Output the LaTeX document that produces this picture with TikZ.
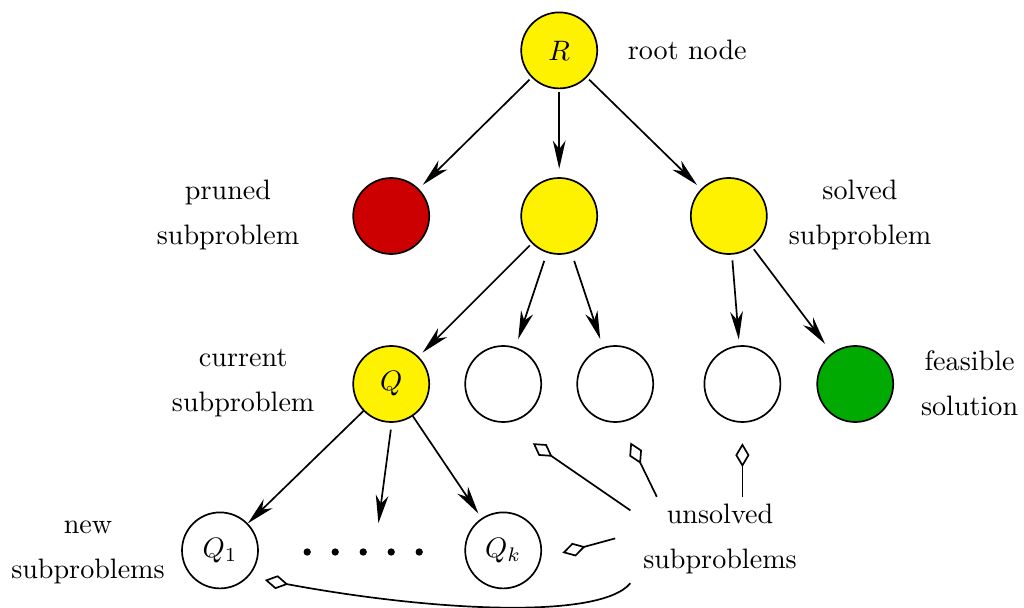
\documentclass[tikz,border=0pt]{standalone}
\usepackage{amsmath}
\usepackage{tikz}
\usetikzlibrary{arrows.meta}

\definecolor{prunedred}{RGB}{204,0,0}
\definecolor{feasgreen}{RGB}{0,170,0}

\begin{document}
\begin{tikzpicture}[>={Stealth[length=10pt,width=4.5pt,inset=3pt]},
  line width=0.6pt,
  sub/.style={circle, draw, minimum size=0.95cm, inner sep=0pt},
  open/.style={-{Diamond[open,length=8.5pt,width=5pt]}},
  lbl/.style={align=center}]
\useasboundingbox (0,0) rectangle (12.8,-7.6);
%root
\node[sub, fill=yellow] (root) at (6.99,-0.63) {$R$};
\node[anchor=west] (rootlbl) at (7.72,-0.63) {root node};
%first level
\node[sub, fill=prunedred] (pruned) at (4.89,-2.7) {};
\node[sub, fill=yellow] (mid) at (6.99,-2.7) {};
\node[sub, fill=yellow] (solved) at (9.11,-2.7) {};
\node[lbl] (prunedlbl) at (2.85,-2.69) {pruned\\[4pt]subproblem};
\node[lbl] (solvedlbl) at (10.75,-2.69) {solved\\[4pt]subproblem};
\draw[->, shorten <=1pt, shorten >=2pt] (root) -- (pruned);
\draw[->, shorten <=1pt, shorten >=3pt] (root) -- (mid);
\draw[->, shorten <=1pt, shorten >=2pt] (root) -- (solved);
%second level
\node[sub, fill=yellow] (cur) at (4.89,-4.8) {$Q$};
\node[sub] (open1) at (6.29,-4.8) {};
\node[sub] (open2) at (7.69,-4.8) {};
\node[sub] (open3) at (9.28,-4.8) {};
\node[sub, fill=feasgreen] (feas) at (10.69,-4.8) {};
\node[lbl] (curlbl) at (3.04,-4.79) {current\\[4pt]subproblem};
\node[lbl] (feaslbl) at (12.12,-4.79) {feasible\\[4pt]solution};
\draw[->, shorten <=1pt, shorten >=2pt] (mid) -- (cur);
\draw[->, shorten <=3pt, shorten >=3pt] (mid) -- (open1);
\draw[->, shorten <=3pt, shorten >=3pt] (mid) -- (open2);
\draw[->, shorten <=2pt, shorten >=2pt] (solved) -- (open3);
\draw[->, shorten <=1pt, shorten >=4pt] (solved) -- (feas);
%new subproblems
\node[sub] (q1) at (2.75,-6.88) {$Q_1$};
\node[sub] (qk) at (6.29,-6.88) {$Q_k$};
\node[lbl] (newlbl) at (1.1,-6.91) {new\\[4pt]subproblems};
\foreach \x in {0,...,4}
{
  \fill (3.84cm + \x * 0.35cm, -6.9cm) circle (1.3pt);
}
\coordinate (dots) at (4.73,-6.54);
\draw[->] (cur) -- (q1);
\draw[->, shorten <=1pt] (cur.south) ++(0,-0.05) -- (dots);
\draw[->, shorten >=2pt] (cur) -- (qk);
%unsolved legend
\node[lbl] (openlbl) at (9.0,-6.74) {unsolved\\[4pt]subproblems};
\coordinate (s1) at (7.88,-6.38);
\coordinate (t1) at (6.66,-5.54);
\coordinate (s2) at (8.21,-6.21);
\coordinate (t2) at (7.88,-5.53);
\coordinate (s3) at (9.28,-6.21);
\coordinate (t3) at (9.28,-5.54);
\coordinate (s4) at (7.69,-6.73);
\coordinate (t4) at (7.03,-6.91);
\coordinate (s5) at (7.88,-7.29);
\coordinate (t5) at (3.31,-7.25);
\draw[open] (s1) -- (t1);
\draw[open] (s2) -- (t2);
\draw[open] (s3) -- (t3);
\draw[open] (s4) -- (t4);
\draw[open] (s5) .. controls (7.5,-7.75) and (5.4,-7.64) .. (t5);
\end{tikzpicture}
\end{document}
